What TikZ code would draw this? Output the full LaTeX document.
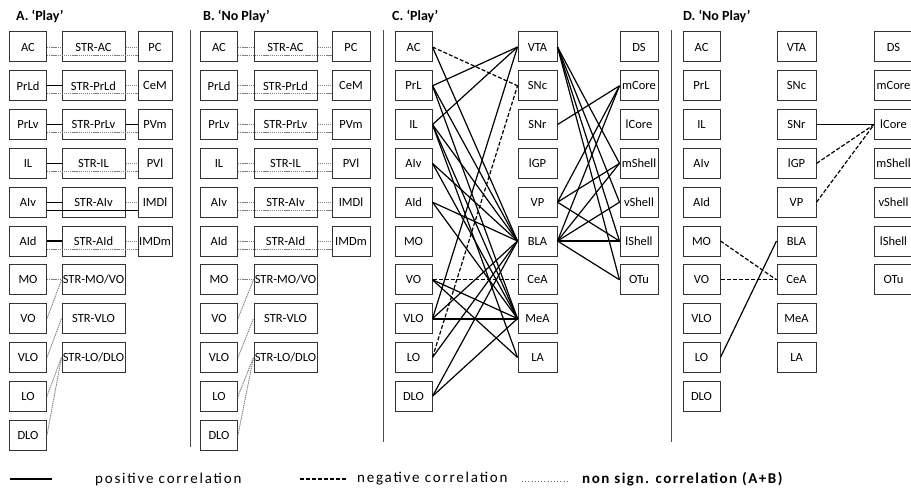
\documentclass[tikz,border=0pt]{standalone}
\usepackage{fontspec}
\setmainfont{Carlito}
\begin{document}
\begin{tikzpicture}[x=1pt,y=-1pt,
  bx/.style={draw=black!80,line width=1pt,minimum height=30pt,inner sep=0pt,font=\fontsize{12.5}{12.5}\selectfont},
  lb/.style={bx,minimum width=37pt},
  sb/.style={bx,minimum width=63pt},
  rbA/.style={bx,minimum width=34pt},
  rbB/.style={bx,minimum width=38pt},
  posline/.style={draw=black,line width=1.2pt},
  negline/.style={draw=black,line width=1.2pt,dash pattern=on 4pt off 2pt},
  nsline/.style={draw=black!50,line width=0.9pt,dash pattern=on 1.3pt off 0.8pt},
  ttl/.style={font=\bfseries\fontsize{14}{14}\selectfont,anchor=west,inner sep=0pt},
  lgd/.style={font=\fontsize{15}{15}\selectfont\addfontfeature{LetterSpace=12},anchor=west,inner sep=0pt},
  sep/.style={draw=black!70,line width=1pt}]
\useasboundingbox[fill=white] (0,0) rectangle (911,495);

% titles
\node[ttl] (tA) at (16,16) {A. ‘Play’};
\node[ttl] (tB) at (203,16) {B. ‘No Play’};
\node[ttl] (tC) at (392,16) {C. ‘Play’};
\node[ttl] (tD) at (683,16) {D. ‘No Play’};

% separators
\draw[sep] (190,30) -- (190,447);
\draw[sep] (383,30) -- (383,442);
\draw[sep] (671,30) -- (671,442);

% ---------- Panel A and B ----------
\foreach \P/\xl/\xs/\xr/\rs in {A/28/93.5/155/rbA,B/219/285.5/351/rbB}{
  \foreach \t [count=\i from 0] in {AC,PrLd,PrLv,IL,AIv,AId,MO,VO,VLO,LO,DLO}
    \node[lb] (\P l\i) at (\xl,{47+38.8*\i}) {\t};
  \foreach \t [count=\i from 0] in {STR-AC,STR-PrLd,STR-PrLv,STR-IL,STR-AIv,STR-AId,STR-MO/VO,STR-VLO,STR-LO/DLO}
    \node[sb] (\P s\i) at (\xs,{47+38.8*\i}) {\t};
  \foreach \t [count=\i from 0] in {PC,CeM,PVm,PVl,IMDl,IMDm}
    \node[\rs] (\P r\i) at (\xr,{47+38.8*\i}) {\t};
}
% panel A connectors
\foreach \i/\a/\b/\c in {0/nsline/nsline/nsline,1/posline/nsline/nsline,2/posline/posline/nsline,3/posline/nsline/nsline,4/posline/nsline/posline,5/posline/nsline/nsline}{
  \draw[\a] (Al\i) -- (As\i);
  \draw[\b] (As\i) -- (Ar\i);
  \draw[\c] ([yshift=-8pt]Al\i.east) -- ([yshift=-8pt]Ar\i.west);
}
% panel B connectors
\foreach \i in {0,...,5}{
  \draw[nsline] (Bl\i) -- (Bs\i);
  \draw[nsline] (Bs\i) -- (Br\i);
  \draw[nsline] ([yshift=-8pt]Bl\i.east) -- ([yshift=-8pt]Br\i.west);
}
\foreach \P in {A,B}{
  \draw[nsline] (\P l6) -- (\P s6);
  \draw[nsline] (\P l7.east) -- (\P s6.west);
  \draw[nsline] (\P l8.east) -- (\P s7.west);
  \draw[nsline] (\P l9.east) -- (\P s8.west);
  \draw[nsline] (\P l10.east) -- (\P s8.west);
}

% ---------- Panel C and D ----------
\foreach \P/\xl/\xm/\xr in {C/413.5/537.5/639,D/701.5/796.5/893.5}{
  \foreach \t [count=\i from 0] in {AC,PrL,IL,AIv,AId,MO,VO,VLO,LO,DLO}
    \node[lb] (\P l\i) at (\xl,{47+38.8*\i}) {\t};
  \foreach \t [count=\i from 0] in {VTA,SNc,SNr,lGP,VP,BLA,CeA,MeA,LA}
    \node[lb,minimum width=39pt] (\P m\i) at (\xm,{47+38.8*\i}) {\t};
  \foreach \t [count=\i from 0] in {DS,mCore,lCore,mShell,vShell,lShell,OTu}
    \node[lb,minimum width=38pt] (\P r\i) at (\xr,{47+38.8*\i}) {\t};
}
% panel C: cortex -> middle
\foreach \a/\b/\s in {0/1/negline,0/5/posline,
  1/0/posline,1/5/posline,1/7/posline,
  2/0/posline,2/5/posline,2/7/posline,2/8/posline,
  3/5/posline,3/7/posline,
  4/5/posline,4/7/posline,
  6/6/negline,6/7/posline,6/8/posline,
  7/0/posline,7/5/posline,
  8/1/negline,8/5/posline,
  9/5/posline,9/7/posline}
  \draw[\s] (Cl\a.east) -- (Cm\b.west);
\draw[posline,line width=1.9pt] (Cl7.east) -- (Cm7.west);
% panel C: middle -> striatum
\foreach \a/\b in {0/3,0/4,0/5,0/6,2/1,4/1,4/3,4/5,5/1,5/3,5/4,5/5,5/6}
  \draw[posline] (Cm\a.east) -- (Cr\b.west);

% panel D
\draw[posline] (Dm2.east) -- (Dr2.west);
\draw[negline] (Dm3.east) -- (Dr2.west);
\draw[negline] (Dm4.east) -- (Dr2.west);
\draw[negline] (Dl5.east) -- (Dm6.west);
\draw[negline] (Dl6.east) -- (Dm6.west);
\draw[posline] (Dl8.east) -- (Dm5.west);

% ---------- legend ----------
\coordinate (g1) at (10,479); \coordinate (g2) at (52,479);
\draw[posline,line width=1.7pt] (g1) -- (g2);
\node[lgd] (lg1) at (95,479) {positive correlation};
\coordinate (g3) at (300,479); \coordinate (g4) at (346,479);
\draw[negline,line width=1.5pt] (g3) -- (g4);
\node[lgd] (lg2) at (357,479) {negative correlation};
\coordinate (g5) at (522,481); \coordinate (g6) at (568,481);
\draw[black!60,line width=1pt,dash pattern=on 1pt off 2.2pt] (g5) -- (g6);
\node[lgd,font=\bfseries\fontsize{15}{15}\selectfont\addfontfeature{LetterSpace=10}] (lg3) at (582,479) {non sign. correlation (A+B)};
\end{tikzpicture}
\end{document}
